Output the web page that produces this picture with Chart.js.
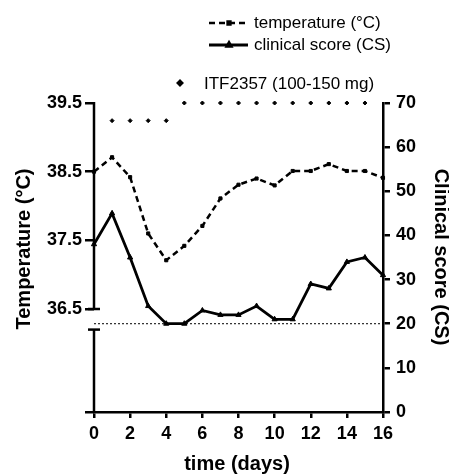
<!DOCTYPE html>
<html lang="en">
<head>
<meta charset="UTF-8">
<title>Temperature and clinical score</title>
<script src="https://cdn.jsdelivr.net/npm/chart.js@4.4.1/dist/chart.umd.min.js"></script>
<style>
  html, body { margin: 0; padding: 0; background: #fff; }
  canvas { display: block; }
</style>
</head>
<body>
<canvas id="chart" width="449" height="474"></canvas>
<script>
// values
const days = [0, 1, 2, 3, 4, 5, 6, 7, 8, 9, 10, 11, 12, 13, 14, 15, 16];
const temperature = [38.5, 38.71, 38.42, 37.6, 37.21, 37.42, 37.71, 38.11, 38.31, 38.4, 38.3, 38.51, 38.51, 38.61, 38.51, 38.51, 38.41];
const clinicalScore = [38, 45, 35, 24, 20, 20, 23, 22, 22, 24, 21, 21, 29, 28, 34, 35, 31];
const itfDays = [1, 2, 3, 4, 5, 6, 7, 8, 9, 10, 11, 12, 13, 14, 15];
const itfLevel = [66, 66, 66, 66, 70, 70, 70, 70, 70, 70, 70, 70, 70, 70, 70];
const baselineDays = [0, 16];
const baselineCS = [20, 20];
const xTicks = [0, 2, 4, 6, 8, 10, 12, 14, 16];
const tempTicks = [35, 36.5, 37.5, 38.5, 39.5];   // 35 = unlabelled foot of the axis
const csTicks = [0, 10, 20, 30, 40, 50, 60, 70];
const tempBreak = [36.5, 36.2];                    // gap in the left axis

const FONT = "'Liberation Sans', Arial, sans-serif";
Chart.defaults.font.family = FONT;
Chart.defaults.color = '#000';

const pts = (xs, ys) => xs.map((d, i) => ({ x: d, y: ys[i] }));

// broken left axis, legend and axis titles
const decor = {
    id: 'decor',
    afterDraw(chart) {
        const ctx = chart.ctx;
        const y = chart.scales.y;
        const a = chart.chartArea;
        const lx = a.left;
        ctx.save();
        ctx.strokeStyle = '#000';
        ctx.lineWidth = 2.5;
        const seg = (x1, y1, x2, y2) => { ctx.beginPath(); ctx.moveTo(x1, y1); ctx.lineTo(x2, y2); ctx.stroke(); };
        const yTop = y.getPixelForValue(39.5);
        const yB1 = y.getPixelForValue(tempBreak[0]);
        const yB2 = y.getPixelForValue(tempBreak[1]);
        seg(lx, yTop - 1, lx, yB1);
        seg(lx - 6, yB1, lx + 6, yB1);
        seg(lx, yB2, lx, a.bottom);
        seg(lx - 6, yB2, lx + 6, yB2);

        // legend
        const ds = chart.data.datasets;
        ctx.font = '17px ' + FONT;
        ctx.textBaseline = 'middle';
        ctx.fillStyle = '#000';
        const rows = [
            { d: ds[0], y: 23, r: 2, label: 'temperature (°C)' },
            { d: ds[1], y: 45, r: 2.5, label: 'clinical score (CS)' }
        ];
        rows.forEach(r => {
            ctx.lineWidth = r.d.borderWidth;
            ctx.setLineDash(r.d.borderDash || []);
            seg(209, r.y, 248, r.y);
            ctx.setLineDash([]);
            Chart.helpers.drawPoint(ctx, { pointStyle: r.d.pointStyle, radius: r.r, borderWidth: 1 }, 229, r.y);
            ctx.fillText(r.label, 254, r.y);
        });
        Chart.helpers.drawPoint(ctx, { pointStyle: ds[2].pointStyle, radius: ds[2].pointRadius, borderWidth: 1 }, 180, 83);
        ctx.fillText('ITF2357 (100-150 mg)', 204, 84);

        // axis titles
        ctx.font = 'bold 20px ' + FONT;
        ctx.textAlign = 'center';
        ctx.fillText('time (days)', 237, 464);
        ctx.save();
        ctx.translate(24, 249);
        ctx.rotate(-Math.PI / 2);
        ctx.fillText('Temperature (°C)', 0, 0);
        ctx.restore();
        ctx.save();
        ctx.translate(441, 257);
        ctx.rotate(Math.PI / 2);
        ctx.fillText('Clinical score (CS)', 0, 0);
        ctx.restore();
        ctx.restore();
    }
};

const axisGrid = { drawOnChartArea: false, color: '#000', lineWidth: 2.5 };
const tickFont = { size: 18, weight: 'bold' };

new Chart(document.getElementById('chart'), {
    type: 'line',
    data: {
        datasets: [{
            label: 'temperature (°C)',
            data: pts(days, temperature),
            yAxisID: 'y',
            borderColor: '#000',
            backgroundColor: '#000',
            borderWidth: 2.5,
            borderDash: [6, 4],
            pointStyle: 'rect',
            pointRadius: 2.2,
            pointBorderWidth: 1
        }, {
            label: 'clinical score (CS)',
            data: pts(days, clinicalScore),
            yAxisID: 'y1',
            borderColor: '#000',
            backgroundColor: '#000',
            borderWidth: 2.8,
            pointStyle: 'triangle',
            pointRadius: 3,
            pointBorderWidth: 1
        }, {
            label: 'ITF2357 (100-150 mg)',
            data: pts(itfDays, itfLevel),
            yAxisID: 'y1',
            showLine: false,
            borderColor: '#000',
            backgroundColor: '#000',
            pointStyle: 'rectRot',
            pointRadius: 2,
            pointBorderWidth: 1
        }, {
            label: 'baseline',
            data: pts(baselineDays, baselineCS),
            yAxisID: 'y1',
            borderColor: '#000',
            borderWidth: 1,
            borderDash: [2, 2],
            pointRadius: 0
        }]
    },
    options: {
        responsive: false,
        animation: false,
        clip: false,
        layout: { padding: { top: 103, left: 0, right: 0, bottom: 0 } },
        plugins: { legend: { display: false }, tooltip: { enabled: false } },
        elements: { line: { tension: 0 } },
        scales: {
            x: {
                type: 'linear', min: 0, max: 16,
                afterBuildTicks: s => { s.ticks = xTicks.map(v => ({ value: v })); },
                afterFit: s => { s.height = 62; },
                grid: { ...axisGrid, tickLength: 6 },
                border: { color: '#000', width: 2.5 },
                ticks: { font: tickFont, padding: 5, maxRotation: 0 }
            },
            y: {
                position: 'left', min: 35, max: 39.5,
                afterBuildTicks: s => { s.ticks = tempTicks.map(v => ({ value: v })); },
                afterFit: s => { s.width = 94; },
                grid: { ...axisGrid, tickLength: 9 },
                border: { display: false },
                ticks: { font: tickFont, padding: 3, callback: v => v === 35 ? '' : v.toFixed(1) }
            },
            y1: {
                position: 'right', min: 0, max: 70,
                afterBuildTicks: s => { s.ticks = csTicks.map(v => ({ value: v })); },
                afterFit: s => { s.width = 66; },
                grid: { ...axisGrid, tickLength: 7 },
                border: { color: '#000', width: 2.5 },
                ticks: { font: tickFont, padding: 6 }
            }
        }
    },
    plugins: [decor]
});
</script>
</body>
</html>
